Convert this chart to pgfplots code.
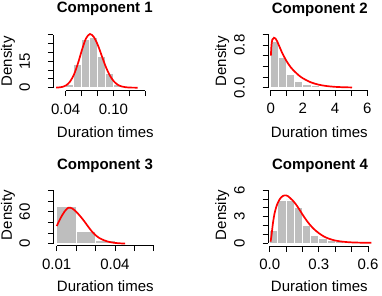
\documentclass[border=0pt]{standalone}
\usepackage{fontspec}
\setmainfont{Liberation Sans}
\usepackage{pgfplots}
\pgfplotsset{compat=1.18}
\definecolor{rgray}{RGB}{190,190,190}
\pgfplotsset{
  rstyle/.style={
    scale only axis, axis lines=left, axis line style={-, line width=0.8pt, black},
    anchor=south west, clip=false, scaled ticks=false,
    tick align=outside, major tick length=5.5pt,
    every tick/.style={line width=0.8pt, black},
    minor tick num=0,
    xticklabel style={anchor=base, yshift=-18pt},
    yticklabel style={xshift=-18pt, rotate=90, anchor=base},
  },
  hbar/.style={ybar interval, fill=rgray, draw=white, line width=0.9pt},
  rcurve/.style={red, line width=1.7pt, smooth, mark=none},
}
\begin{document}
\begin{tikzpicture}[x=1pt,y=1pt,font=\fontsize{15}{18}\selectfont]
\useasboundingbox (0,0) rectangle (382,295);
% Panel 1
\begin{axis}[rstyle, at={(65.7pt,207.3pt)}, width=79.6pt, height=53pt,
  xmin=0.04, xmax=0.14, ymin=0, ymax=30,
  axis x line shift=3pt, axis y line shift=12.4pt,
  xtick={0.04,0.06,0.08,0.10,0.12,0.14}, xticklabels={0.04,,,0.10,,},
  ytick={0,5,10,15,20,25,30}, yticklabels={0,,,15,,,}]
\addplot[hbar] coordinates {(0.04,2.0) (0.05,13.0) (0.06,27.4) (0.07,28.4) (0.08,17.8) (0.09,8.3) (0.10,2.0) (0.11,0.5) (0.12,0)};
\addplot[rcurve] coordinates {(0.028,0.05) (0.0305,0.12) (0.0355,0.43) (0.0405,1.34) (0.0455,3.47) (0.0505,7.58) (0.0555,13.9) (0.0605,21.5) (0.0655,27.9) (0.0705,30.4) (0.0755,28.6) (0.0805,24.0) (0.0855,17.8) (0.0905,11.7) (0.0955,6.88) (0.1005,3.58) (0.1055,1.65) (0.1105,0.68) (0.1155,0.25) (0.1205,0.08) (0.1305,0.01)};
\end{axis}
% Panel 2
\begin{axis}[rstyle, at={(270.7pt,207.3pt)}, width=96.6pt, height=53.4pt,
  xmin=0, xmax=6, ymin=0, ymax=1.0,
  axis x line shift=2.3pt, axis y line shift=2.7pt,
  xtick={0,1,2,3,4,5,6}, xticklabels={0,,2,,4,,6},
  ytick={0,0.2,0.4,0.6,0.8,1.0}, yticklabels={0.0,,,,0.8,}]
\addplot[hbar] coordinates {(0,0.87) (0.5,0.57) (1,0.24) (1.5,0.125) (2,0.064) (2.5,0.035) (3,0.02) (3.5,0.012) (4,0.008) (4.5,0.005) (5,0)};
\addplot[rcurve] coordinates {(0.01,0.60) (0.05,0.80) (0.1,0.90) (0.2,0.935) (0.3,0.92) (0.4,0.87) (0.5,0.80) (0.6,0.73) (0.7,0.66) (0.8,0.60) (1.0,0.49) (1.25,0.38) (1.5,0.30) (1.75,0.23) (2.0,0.176) (2.5,0.10) (3.0,0.055) (3.5,0.03) (4.0,0.016) (4.5,0.009) (5.05,0.005)};
\end{axis}
% Panel 3
\begin{axis}[rstyle, at={(56.7pt,51.3pt)}, width=97.1pt, height=53.4pt,
  xmin=0.01, xmax=0.06, ymin=0, ymax=100,
  axis x line shift=1.8pt, axis y line shift=3.4pt,
  xtick={0.01,0.02,0.03,0.04,0.05,0.06}, xticklabels={0.01,,,0.04,,},
  ytick={0,20,40,60,80,100}, yticklabels={0,,,60,,}]
\addplot[hbar] coordinates {(0.01,70) (0.02,23) (0.03,6.5) (0.04,0.5) (0.05,0)};
\addplot[rcurve] coordinates {(0.010,33) (0.012,48) (0.014,60) (0.016,67.5) (0.018,66) (0.020,60) (0.022,52) (0.024,43) (0.026,33) (0.028,23.5) (0.030,16) (0.032,10.5) (0.034,7) (0.036,4.3) (0.038,2.6) (0.040,1.5) (0.042,0.8) (0.0452,0.3)};
\end{axis}
% Panel 4
\begin{axis}[rstyle, at={(269.7pt,52pt)}, width=98.3pt, height=52.7pt,
  xmin=0, xmax=0.6, ymin=0, ymax=6,
  axis x line shift=3pt, axis y line shift=1.7pt,
  xtick={0,0.1,0.2,0.3,0.4,0.5,0.6}, xticklabels={0.0,,,0.3,,,0.6},
  ytick={0,1,2,3,4,5,6}, yticklabels={0,,,3,,,6}]
\addplot[hbar] coordinates {(0,1.4) (0.05,4.8) (0.10,4.9) (0.15,4.0) (0.20,2.0) (0.25,0.9) (0.30,0.57) (0.35,0.3) (0.40,0.15) (0.45,0.1) (0.5,0.05) (0.55,0.03) (0.6,0)};
\addplot[rcurve] coordinates {(0.005,0.15) (0.01,0.7) (0.02,2.3) (0.03,3.4) (0.04,4.1) (0.05,4.6) (0.06,4.95) (0.07,5.2) (0.08,5.35) (0.09,5.42) (0.10,5.42) (0.11,5.35) (0.12,5.2) (0.14,4.85) (0.16,4.4) (0.18,3.85) (0.20,3.25) (0.22,2.7) (0.24,2.2) (0.26,1.78) (0.28,1.42) (0.30,1.12) (0.33,0.75) (0.36,0.5) (0.40,0.28) (0.45,0.14) (0.50,0.07) (0.55,0.04) (0.62,0.02)};
\end{axis}
% titles and labels
\node[anchor=base] at (104.8,282) {\bfseries Component 1};
\node[anchor=base] at (319.8,281.5) {\bfseries Component 2};
\node[anchor=base] at (105,126) {\bfseries Component 3};
\node[anchor=base] at (320,125.5) {\bfseries Component 4};
\node[anchor=base, inner sep=0pt] at (105.3,157.7) {Duration times};
\node[anchor=base, inner sep=0pt] at (319.3,157.7) {Duration times};
\node[anchor=base, inner sep=0pt] at (105.3,3.5) {Duration times};
\node[anchor=base, inner sep=0pt] at (319.3,3.5) {Duration times};
\node[rotate=90,anchor=base] at (11.8,233.5) {Density};
\node[rotate=90,anchor=base] at (226,233.5) {Density};
\node[rotate=90,anchor=base] at (11.8,80) {Density};
\node[rotate=90,anchor=base] at (226,80) {Density};
\end{tikzpicture}
\end{document}
